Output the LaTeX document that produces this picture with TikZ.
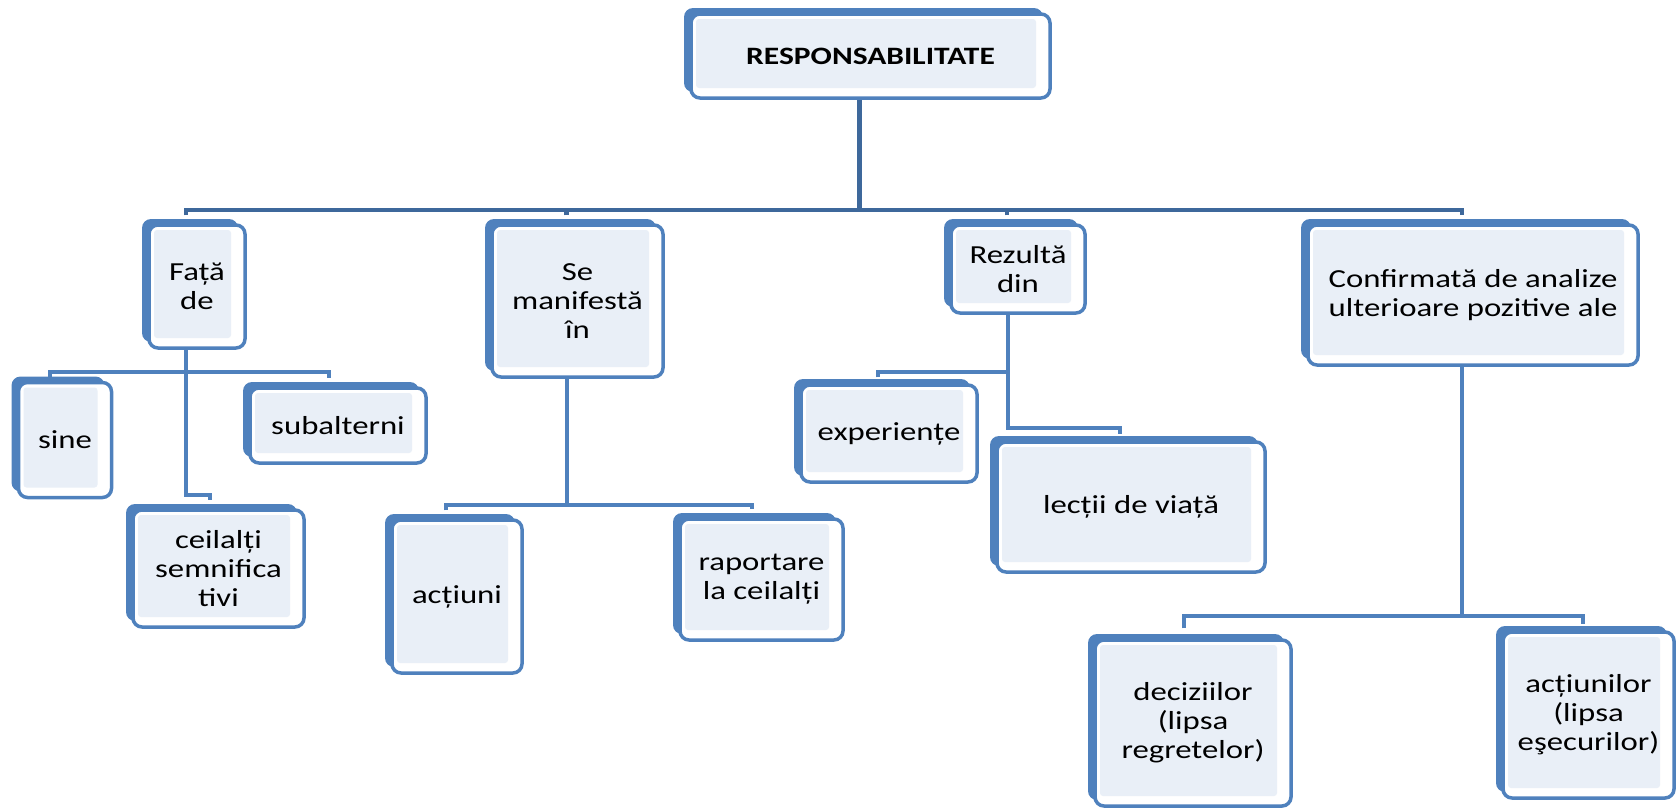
\documentclass[tikz,border=0pt]{standalone}
\usepackage{fontspec}
\setmainfont{Carlito}[FakeStretch=1.26]
\usetikzlibrary{calc,shadows}
\definecolor{boxblue}{RGB}{79,129,189}
\definecolor{linkdark}{RGB}{62,104,155}
\definecolor{dotfill}{RGB}{233,239,247}

\tikzset{
  box/.style={draw=boxblue, line width=3.5pt, rounded corners=9pt, fill=white,
    inner sep=0pt, align=center, font=\fontsize{26pt}{29pt}\selectfont,
    drop shadow={shadow xshift=-7pt, shadow yshift=6pt, fill=boxblue, opacity=1, draw=none},
    path picture={\fill[dotfill, rounded corners=3pt]
      ([shift={(5pt,-5pt)}]path picture bounding box.north west) rectangle
      ([shift={(-14pt,10pt)}]path picture bounding box.south east);}},
  c1/.style={draw=linkdark, line width=4.8pt},
  c2/.style={draw=boxblue, line width=4pt},
}

\begin{document}
\begin{tikzpicture}[x=1pt, y=-1pt]
\useasboundingbox (0,0) rectangle (1680,809);

% boxes
\node[box, minimum width=359pt, minimum height=84pt] (resp) at (870.5,56) {\fontsize{25pt}{29pt}\selectfont\bfseries RESPONSABILITATE};
\node[box, minimum width=96pt, minimum height=123pt] (fata) at (197,286.5) {Față\\de};
\node[box, minimum width=171pt, minimum height=152pt] (semanif) at (577.5,301) {Se\\manifestă\\în};
\node[box, minimum width=134pt, minimum height=88pt] (rezulta) at (1018,269) {Rezultă\\din};
\node[box, minimum width=330pt, minimum height=140pt] (confirm) at (1473,295) {Confirmată de analize\\ulterioare pozitive ale};
\node[box, minimum width=93pt, minimum height=115pt] (sine) at (65,440) {sine};
\node[box, minimum width=176pt, minimum height=75pt] (subalt) at (338,425.5) {subalterni};
\node[box, minimum width=171pt, minimum height=117pt] (ceil) at (218.5,568.5) {ceilalți\\semnifica\\tivi};
\node[box, minimum width=130pt, minimum height=153pt] (actiuni) at (457,596.5) {acțiuni};
\node[box, minimum width=163pt, minimum height=121pt] (raport) at (761.5,579.5) {raportare\\la ceilalți};
\node[box, minimum width=176pt, minimum height=97pt] (exper) at (889,433.5) {experiențe};
\node[box, minimum width=268pt, minimum height=130pt] (lectii) at (1131,507) {lecții de viață};
\node[box, minimum width=196pt, minimum height=166pt] (decizii) at (1193,723) {deciziilor\\(lipsa\\regretelor)};
\node[box, minimum width=171pt, minimum height=166pt] (actiunilor) at (1588.5,715) {acțiunilor\\(lipsa\\eşecurilor)};

% bar heights
\coordinate (bar1) at (0,210);
\coordinate (bar2) at (0,372);
\coordinate (bar3) at (0,495);
\coordinate (bar4) at (0,505);
\coordinate (bar5) at (0,372);
\coordinate (bar6) at (0,428);
\coordinate (bar7) at (0,616);

% attachment points
\coordinate (r-out) at ($(resp.south)+(-11,0)$);
\coordinate (fata-in) at ($(fata.north)+(-11,-8)$);
\coordinate (sem-in) at ($(semanif.north)+(-11,-8)$);
\coordinate (rez-in) at ($(rezulta.north)+(-11,-8)$);
\coordinate (conf-in) at ($(confirm.north)+(-11,-8)$);

\coordinate (f-out) at ($(fata.south)+(-11,0)$);
\coordinate (sine-in) at ($(sine.north)+(-15,-3)$);
\coordinate (sub-in) at ($(subalt.north)+(-9,-8)$);
\coordinate (ceil-in) at ($(ceil.north)+(-9,-8)$);

\coordinate (s-out) at ($(semanif.south)+(-11,0)$);
\coordinate (act-in) at ($(actiuni.north)+(-11,-8)$);
\coordinate (rap-in) at ($(raport.north)+(-10,-8)$);

\coordinate (z-out) at ($(rezulta.south)+(-10,0)$);
\coordinate (exp-in) at ($(exper.north)+(-11,-6)$);
\coordinate (lec-in) at ($(lectii.north)+(-11,-6)$);

\coordinate (c-out) at ($(confirm.south)+(-11,0)$);
\coordinate (dec-in) at ($(decizii.north)+(-9,-10)$);
\coordinate (acn-in) at ($(actiunilor.north)+(-6,-6)$);

% level one
\draw[c1] (r-out) -- (r-out |- bar1);
\draw[c1] (fata-in) -- (fata-in |- bar1) -- (conf-in |- bar1) -- (conf-in);
\draw[c1] (sem-in) -- (sem-in |- bar1);
\draw[c1] (rez-in) -- (rez-in |- bar1);

% under "Față de"
\draw[c2] (f-out) -- (f-out |- bar3) -- (ceil-in |- bar3) -- (ceil-in);
\draw[c2] (sine-in) -- (sine-in |- bar2) -- (sub-in |- bar2) -- (sub-in);

% under "Se manifestă în"
\draw[c2] (s-out) -- (s-out |- bar4);
\draw[c2] (act-in) -- (act-in |- bar4) -- (rap-in |- bar4) -- (rap-in);

% under "Rezultă din"
\draw[c2] (z-out) -- (z-out |- bar6) -- (lec-in |- bar6) -- (lec-in);
\draw[c2] (exp-in) -- (exp-in |- bar5) -- (z-out |- bar5);

% under "Confirmată ..."
\draw[c2] (c-out) -- (c-out |- bar7);
\draw[c2] (dec-in) -- (dec-in |- bar7) -- (acn-in |- bar7) -- (acn-in);
\end{tikzpicture}
\end{document}
